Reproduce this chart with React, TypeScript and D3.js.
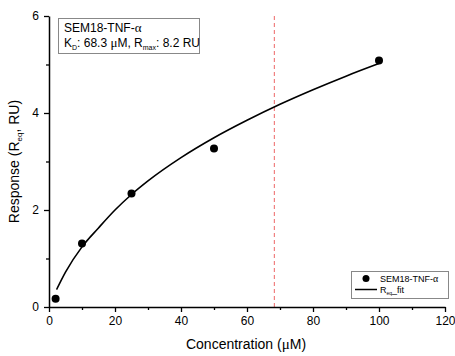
import React, { useEffect, useRef } from "react";
import * as d3 from "d3";

// measured points
const concentrations = [2, 10, 25, 50, 100];
const responses = [0.17, 1.31, 2.34, 3.27, 5.08];

// fit curve
const fitConc = [2.3, 5, 10, 15, 20, 25, 30, 40, 50, 60, 70, 80, 90, 100];
const fitResp = [0.36, 0.72, 1.24, 1.63, 2.0, 2.32, 2.6, 3.08, 3.49, 3.85, 4.18, 4.48, 4.76, 5.02];

const kd = 68.3;
const xMajor = [0, 20, 40, 60, 80, 100, 120];
const xMinor = [10, 30, 50, 70, 90, 110];
const yMajor = [0, 2, 4, 6];
const yMinor = [1, 3, 5];

const FONT = "Arial, 'Liberation Sans', sans-serif";
const SERIF = "'Times New Roman', 'Liberation Serif', serif";

const App = () => {
  const ref = useRef<SVGSVGElement>(null);
  const dims = { width: 455, height: 356 };

  useEffect(() => {
    const svg = d3.select(ref.current);
    svg.selectAll("*").remove();

    const x = d3.scaleLinear().domain([0, 120]).range([49, 445]);
    const y = d3.scaleLinear().domain([0, 6]).range([307, 16]);

    // red dashed line at KD
    svg
      .append("line")
      .attr("x1", x(kd))
      .attr("x2", x(kd))
      .attr("y1", y(6))
      .attr("y2", y(0))
      .attr("stroke", "#f08080")
      .attr("stroke-width", 1.2)
      .attr("stroke-dasharray", "4,3");

    // axes
    const styleAxis = (g: any) => {
      g.select(".domain").attr("stroke", "#000").attr("stroke-width", 1.5);
      g.selectAll(".tick line").attr("stroke", "#000").attr("stroke-width", 1.3);
      g.selectAll(".tick text")
        .attr("font-family", FONT)
        .attr("font-size", 12)
        .attr("fill", "#000");
    };

    const gx = svg
      .append("g")
      .attr("transform", `translate(0,${y(0)})`)
      .call(
        d3.axisBottom(x).tickValues(xMajor).tickFormat(d3.format("d")).tickSize(5).tickSizeOuter(0).tickPadding(4)
      );
    styleAxis(gx);
    const gxm = svg
      .append("g")
      .attr("transform", `translate(0,${y(0)})`)
      .call(d3.axisBottom(x).tickValues(xMinor).tickSize(3).tickFormat(() => ""));
    gxm.select(".domain").remove();
    gxm.selectAll(".tick line").attr("stroke", "#000").attr("stroke-width", 1.3);

    const gy = svg
      .append("g")
      .attr("transform", `translate(${x(0)},0)`)
      .call(
        d3.axisLeft(y).tickValues(yMajor).tickFormat(d3.format("d")).tickSize(5).tickSizeOuter(0).tickPadding(5)
      );
    styleAxis(gy);
    const gym = svg
      .append("g")
      .attr("transform", `translate(${x(0)},0)`)
      .call(d3.axisLeft(y).tickValues(yMinor).tickSize(3).tickFormat(() => ""));
    gym.select(".domain").remove();
    gym.selectAll(".tick line").attr("stroke", "#000").attr("stroke-width", 1.3);

    // fit curve
    const line = d3
      .line<number>()
      .x((d, i) => x(fitConc[i]))
      .y((d) => y(d))
      .curve(d3.curveMonotoneX);
    svg
      .append("path")
      .attr("d", line(fitResp))
      .attr("fill", "none")
      .attr("stroke", "#000")
      .attr("stroke-width", 1.6);

    // points
    svg
      .selectAll("circle.pt")
      .data(responses)
      .join("circle")
      .attr("class", "pt")
      .attr("cx", (d, i) => x(concentrations[i]))
      .attr("cy", (d) => y(d))
      .attr("r", 4)
      .attr("fill", "#000");

    // info box
    svg
      .append("rect")
      .attr("x", 58.5)
      .attr("y", 18.5)
      .attr("width", 141)
      .attr("height", 35)
      .attr("fill", "#fff")
      .attr("stroke", "#888")
      .attr("stroke-width", 1);
    const t1 = svg
      .append("text")
      .attr("x", 64)
      .attr("y", 32)
      .attr("font-family", FONT)
      .attr("font-size", 12)
      .attr("fill", "#000");
    t1.append("tspan").text("SEM18-TNF-");
    t1.append("tspan").attr("font-family", SERIF).attr("font-size", 13).text("α");
    const t2 = svg
      .append("text")
      .attr("x", 64)
      .attr("y", 47)
      .attr("font-family", FONT)
      .attr("font-size", 12)
      .attr("fill", "#000");
    t2.append("tspan").text("K");
    t2.append("tspan").attr("font-size", 7).attr("dy", 3).text("D");
    t2.append("tspan").attr("dy", -3).text(": 68.3 ");
    t2.append("tspan").attr("font-family", SERIF).attr("font-size", 13).text("μ");
    t2.append("tspan").text("M, R");
    t2.append("tspan").attr("font-size", 7).attr("dy", 3).text("max");
    t2.append("tspan").attr("dy", -3).text(": 8.2 RU");

    // legend
    svg
      .append("rect")
      .attr("x", 351.5)
      .attr("y", 271.5)
      .attr("width", 97)
      .attr("height", 27)
      .attr("fill", "#fff")
      .attr("stroke", "#888")
      .attr("stroke-width", 1);
    svg.append("circle").attr("cx", 366).attr("cy", 278.5).attr("r", 3.5).attr("fill", "#000");
    svg
      .append("text")
      .attr("x", 380)
      .attr("y", 282)
      .attr("font-family", FONT)
      .attr("font-size", 9)
      .call((t: any) => {
        t.append("tspan").text("SEM18-TNF-");
        t.append("tspan").attr("font-family", SERIF).attr("font-size", 10).text("α");
      });
    svg
      .append("line")
      .attr("x1", 355)
      .attr("x2", 377)
      .attr("y1", 289.5)
      .attr("y2", 289.5)
      .attr("stroke", "#000")
      .attr("stroke-width", 1.5);
    svg
      .append("text")
      .attr("x", 380)
      .attr("y", 293)
      .attr("font-family", FONT)
      .attr("font-size", 9)
      .call((t: any) => {
        t.append("tspan").text("R");
        t.append("tspan").attr("font-size", 5).attr("dy", 2).text("eq");
        t.append("tspan").attr("dy", -2).text("_fit");
      });

    // axis titles
    const xt = svg
      .append("text")
      .attr("x", 246)
      .attr("y", 349)
      .attr("text-anchor", "middle")
      .attr("font-family", FONT)
      .attr("font-size", 14);
    xt.append("tspan").text("Concentration (");
    xt.append("tspan").attr("font-family", SERIF).attr("font-size", 15).text("μ");
    xt.append("tspan").text("M)");

    const yt = svg
      .append("text")
      .attr("transform", `translate(19,${y(3)}) rotate(-90)`)
      .attr("text-anchor", "middle")
      .attr("font-family", FONT)
      .attr("font-size", 14);
    yt.append("tspan").text("Response (R");
    yt.append("tspan").attr("font-size", 8).attr("dy", 3).text("eq");
    yt.append("tspan").attr("dy", -3).text(", RU)");
  }, []);

  return (
    <svg
      ref={ref}
      width={dims.width}
      height={dims.height}
      style={{ position: "absolute", left: 0, top: 0, background: "#fff" }}
    />
  );
};

export default App;
